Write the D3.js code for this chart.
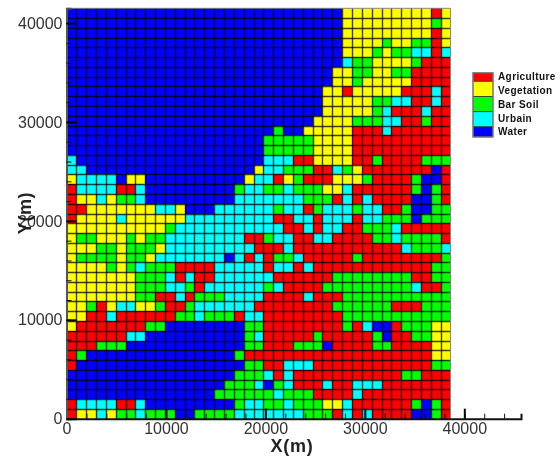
<!DOCTYPE html>
<html>
<head>
<meta charset="utf-8">
<script src="https://cdn.jsdelivr.net/npm/d3@7"></script>
<style>
html, body { margin: 0; padding: 0; background: #fff; }
svg { display: block; filter: blur(0.4px); }
text { font-family: "Liberation Sans", Arial, sans-serif; }
</style>
</head>
<body>
<svg id="chart" width="560" height="459"></svg>
<script>
// land use classes, same order as the legend
var categories = ["Agriculture", "Vegetation", "Bar Soil", "Urbain", "Water"];
var categoryCodes = ["A", "V", "S", "U", "W"];
var categoryColors = ["#ff0000", "#ffff00", "#00ff00", "#00ffff", "#0000ff"];

// grid, top row first, a space every 10 columns
var landUseRows = [
  "WWWWWWWWWW WWWWWWWWWW WWWWWWWWVV VVVVVVVAV",
  "WWWWWWWWWW WWWWWWWWWW WWWWWWWWVV VVVVVVVSV",
  "WWWWWWWWWW WWWWWWWWWW WWWWWWWWVV VVVVVVVAV",
  "WWWWWWWWWW WWWWWWWWWW WWWWWWWWVV VVSVVSSAV",
  "WWWWWWWWWW WWWWWWWWWW WWWWWWWWVV VSVSSUUAU",
  "WWWWWWWWWW WWWWWWWWWW WWWWWWWWUS SVVVVSAAA",
  "WWWWWWWWWW WWWWWWWWWW WWWWWWWVVS SVVSSAAAA",
  "WWWWWWWWWW WWWWWWWWWW WWWWWWWVVS VVVVVAAAA",
  "WWWWWWWWWW WWWWWWWWWW WWWWWWVVAV VVVVAAAUA",
  "WWWWWWWWWW WWWWWWWWWW WWWWWWVVVV VSSUUAAUA",
  "WWWWWWWWWW WWWWWWWWWW WWWWWWVVVV VSUAAAUAA",
  "WWWWWWWWWW WWWWWWWWWW WWWWWVVVVS SSUUAASAA",
  "WWWWWWWWWW WWWWWWWWWW WSWWVVVVVA AAUAAAAAA",
  "WWWWWWWWWW WWWWWWWWWW SSSSSVVVVA AAAAAAAAA",
  "WWWWWWWWWW WWWWWWWWWW SSSSSVVVVA AAAAAAAAA",
  "UWWWWWWWWW WWWWWWWWWW UUUAAVVVVA ASAAAASSS",
  "UUWWWWWWWW WWWWWWWWWV UUSSSAAUSV AAAAAAAWA",
  "VUUUUWVVWW WWWWWWWWVU UAVSAAAVVV SAAAASWWA",
  "AUUUUAAUWW WWWWWWWSUU SSUSSSVVUA AAAAASWSA",
  "AVVUVSSUWW WWWWWWWUUU UUUUSSSAUA UAAAAWWSA",
  "AAVVVVVVVU UVWWWUUUUU USUUASUUUS UUAASWWSS",
  "AVVVVUVVVV VVUUUUUUUU UAAUUAUUUA UUSSSWSSS",
  "VVVVVVVVVV SUUUUUUUUU UUAAUAUUAA SSSUAAAAA",
  "VSSVVVSVSS UUUUUUUUAA SUUAAUUAAA ASSUSSSSA",
  "VVVSSVSSSV UUUUUUUUUA AAUAAAAAAA AAAAUSSSU",
  "VSSSSVSSVU UUUUUUWUAU ASSUAAAAAS AAAAAAAAS",
  "VVVVSVSUSS SAAAAUUUUU AUUAUAAAAA AAAAAAASS",
  "VVVVVVVSSS UAUAAUUUUU UAAAAAASSS SSSSSAASS",
  "VVVVVVVSSS UUSAUUUUUU SUAAAASSSS SSSSSUAAS",
  "VVVVVVVSSA AUASSSUUUU AAAAUAAASS SSSSSSSSS",
  "VVSAVUUVVS AASUUUUUUA AAAAAAASSS SSSAAASSS",
  "VVAAUAAAAA ASSUSSSAUU AAAAAAAASS SSSSSSSSS",
  "VAAAAAAASS WWWWWWWWSS AAAAAAAASA UWWASSSVV",
  "AAAAAAUUWW WWWWWWWWSU AAAAASAAAA ASWAASSVV",
  "AAASSSWWWW WWWWWWWWSS AAASSSWAAA ASSAAAAVV",
  "ASWWWWWWWW WWWWWWWSAA AAAAAAAAAA AAAAAAAVV",
  "AWWWWWWWWW WWWWWWWWSS AAUUUAAAAA AAAAAAASS",
  "WWWWWWWWWW WWWWWWWSSS UAUAAAAAAA AAAASSAAA",
  "WWWWWWWWWW WWWWWWSSSU WSUAAAUAAU UUAAAAAAA",
  "WWWWWWWWWW WWWWWSSSSS SUSSSAAAAU AAAAAAAAA",
  "AUUUUAAUWW WWWWWWWSUU SSUSSSVVUA AAAAASWSA",
  "AVVUVSSUSS SWWSSSSUUU UUUUSSSAUA UAAAAWWSA"
];

// axis ticks in metres
var xMajorTicks = [0, 10000, 20000, 30000, 40000];
var yMajorTicks = [0, 10000, 20000, 30000, 40000];
var minorTicks = d3.range(0, 46000, 2000);

var cellWidth = 990;
var cellHeight = 988;
var nCols = 39;
var nRows = landUseRows.length;

var svg = d3.select("#chart");

var x = d3.scaleLinear().domain([0, 45700]).range([66.5, 521]);
var y = d3.scaleLinear().domain([0, 41496]).range([418.7, 8.3]);

var color = d3.scaleOrdinal().domain(categoryCodes).range(categoryColors);

// one record per cell
var cells = [];
landUseRows.forEach(function(row, r) {
  row.replace(/ /g, "").split("").forEach(function(code, c) {
    cells.push({ row: nRows - 1 - r, col: c, code: code });
  });
});

// cell fills, snapped to whole pixels so neighbours meet exactly
svg.append("g")
  .attr("shape-rendering", "crispEdges")
  .selectAll("rect")
  .data(cells)
  .enter().append("rect")
  .attr("x", function(d) { return Math.round(x(d.col * cellWidth)); })
  .attr("y", function(d) { return Math.round(y((d.row + 1) * cellHeight)); })
  .attr("width", function(d) { return Math.round(x((d.col + 1) * cellWidth)) - Math.round(x(d.col * cellWidth)); })
  .attr("height", function(d) { return Math.round(y(d.row * cellHeight)) - Math.round(y((d.row + 1) * cellHeight)); })
  .attr("fill", function(d) { return color(d.code); });

// cell borders, a little wider than a pixel and see-through so they stay soft
var gridLines = svg.append("g")
  .attr("stroke", "#000")
  .attr("stroke-opacity", 0.75)
  .attr("stroke-width", 1.4);

gridLines.selectAll("line.col")
  .data(d3.range(1, nCols))
  .enter().append("line")
  .attr("class", "col")
  .attr("x1", function(d) { return Math.round(x(d * cellWidth)) + 0.5; })
  .attr("x2", function(d) { return Math.round(x(d * cellWidth)) + 0.5; })
  .attr("y1", y(nRows * cellHeight))
  .attr("y2", y(0));

gridLines.selectAll("line.row")
  .data(d3.range(1, nRows))
  .enter().append("line")
  .attr("class", "row")
  .attr("x1", x(0))
  .attr("x2", x(nCols * cellWidth))
  .attr("y1", function(d) { return Math.round(y(d * cellHeight)) + 0.5; })
  .attr("y2", function(d) { return Math.round(y(d * cellHeight)) + 0.5; });

// light frame on the top and right of the grid
svg.append("path")
  .attr("d", d3.line()([[x(0), y(cellHeight * nRows)],
    [x(cellWidth * nCols), y(cellHeight * nRows)],
    [x(cellWidth * nCols), y(0)]]))
  .attr("fill", "none")
  .attr("stroke", "#888")
  .attr("stroke-width", 1);

// minor ticks first, then major ticks with the labels
var xAxisG = svg.append("g").attr("transform", "translate(0," + y(0) + ")");
xAxisG.call(d3.axisBottom(x).tickValues(minorTicks).tickSize(-5).tickFormat(""));
var xAxisMajor = svg.append("g").attr("transform", "translate(0," + y(0) + ")");
xAxisMajor.call(d3.axisBottom(x).tickValues(xMajorTicks).tickSize(-10).tickPadding(4).tickFormat(d3.format("d")));

var yMinor = minorTicks.filter(function(d) { return d <= 41000; });
var yAxisG = svg.append("g").attr("transform", "translate(" + x(0) + ",0)");
yAxisG.call(d3.axisLeft(y).tickValues(yMinor).tickSize(-5).tickFormat(""));
var yAxisMajor = svg.append("g").attr("transform", "translate(" + x(0) + ",0)");
yAxisMajor.call(d3.axisLeft(y).tickValues(yMajorTicks).tickSize(-10).tickPadding(4).tickFormat(d3.format("d")));

[xAxisG, xAxisMajor, yAxisG, yAxisMajor].forEach(function(g) {
  g.selectAll("text").attr("font-size", 16).attr("font-family", '"Liberation Sans", Arial, sans-serif').attr("fill", "#333");
});
xAxisG.selectAll("line").attr("stroke", "#111").attr("stroke-width", 1);
yAxisG.selectAll("line").attr("stroke", "#111").attr("stroke-width", 1);
xAxisMajor.selectAll("line").attr("stroke", "#000").attr("stroke-width", 2);
yAxisMajor.selectAll("line").attr("stroke", "#000").attr("stroke-width", 2);
xAxisG.select(".domain").attr("stroke", "#111").attr("stroke-width", 2);
xAxisMajor.select(".domain").attr("stroke", "none");
yAxisG.select(".domain").attr("stroke", "#555").attr("stroke-width", 2);
yAxisMajor.select(".domain").attr("stroke", "none");

// axis titles
svg.append("text")
  .attr("x", 292)
  .attr("y", 452)
  .attr("text-anchor", "middle")
  .attr("font-size", 18)
  .attr("font-weight", "bold")
  .attr("fill", "#222")
  .attr("letter-spacing", 0.8)
  .text("X(m)");

svg.append("text")
  .attr("transform", "translate(31,213) rotate(-90)")
  .attr("text-anchor", "middle")
  .attr("font-size", 18)
  .attr("font-weight", "bold")
  .attr("fill", "#222")
  .attr("letter-spacing", 0.6)
  .text("Y(m)");

// legend, the first and last swatch are cut short by the frame
var legendY = d3.scaleBand().domain(categories).range([66.1, 142.1]);
var legendTop = 72.7;
var legendBottom = 137;

var legend = svg.append("g");

legend.selectAll("rect")
  .data(categories)
  .enter().append("rect")
  .attr("x", 473)
  .attr("y", function(d) { return Math.max(legendY(d), legendTop); })
  .attr("width", 20)
  .attr("height", function(d) {
    return Math.min(legendY(d) + legendY.bandwidth(), legendBottom) - Math.max(legendY(d), legendTop);
  })
  .attr("fill", function(d, i) { return categoryColors[i]; })
  .attr("stroke", "#333")
  .attr("stroke-width", 0.8);

legend.append("rect")
  .attr("x", 473)
  .attr("y", legendTop)
  .attr("width", 20)
  .attr("height", legendBottom - legendTop)
  .attr("fill", "none")
  .attr("stroke", "#888")
  .attr("stroke-width", 1.2);

legend.selectAll("text")
  .data(categories)
  .enter().append("text")
  .attr("x", 498)
  .attr("y", function(d, i) { return 80.2 + i * 13.8; })
  .attr("font-size", 10)
  .attr("font-weight", "bold")
  .attr("letter-spacing", 0.4)
  .attr("fill", "#111")
  .text(function(d) { return d; });
</script>
</body>
</html>
